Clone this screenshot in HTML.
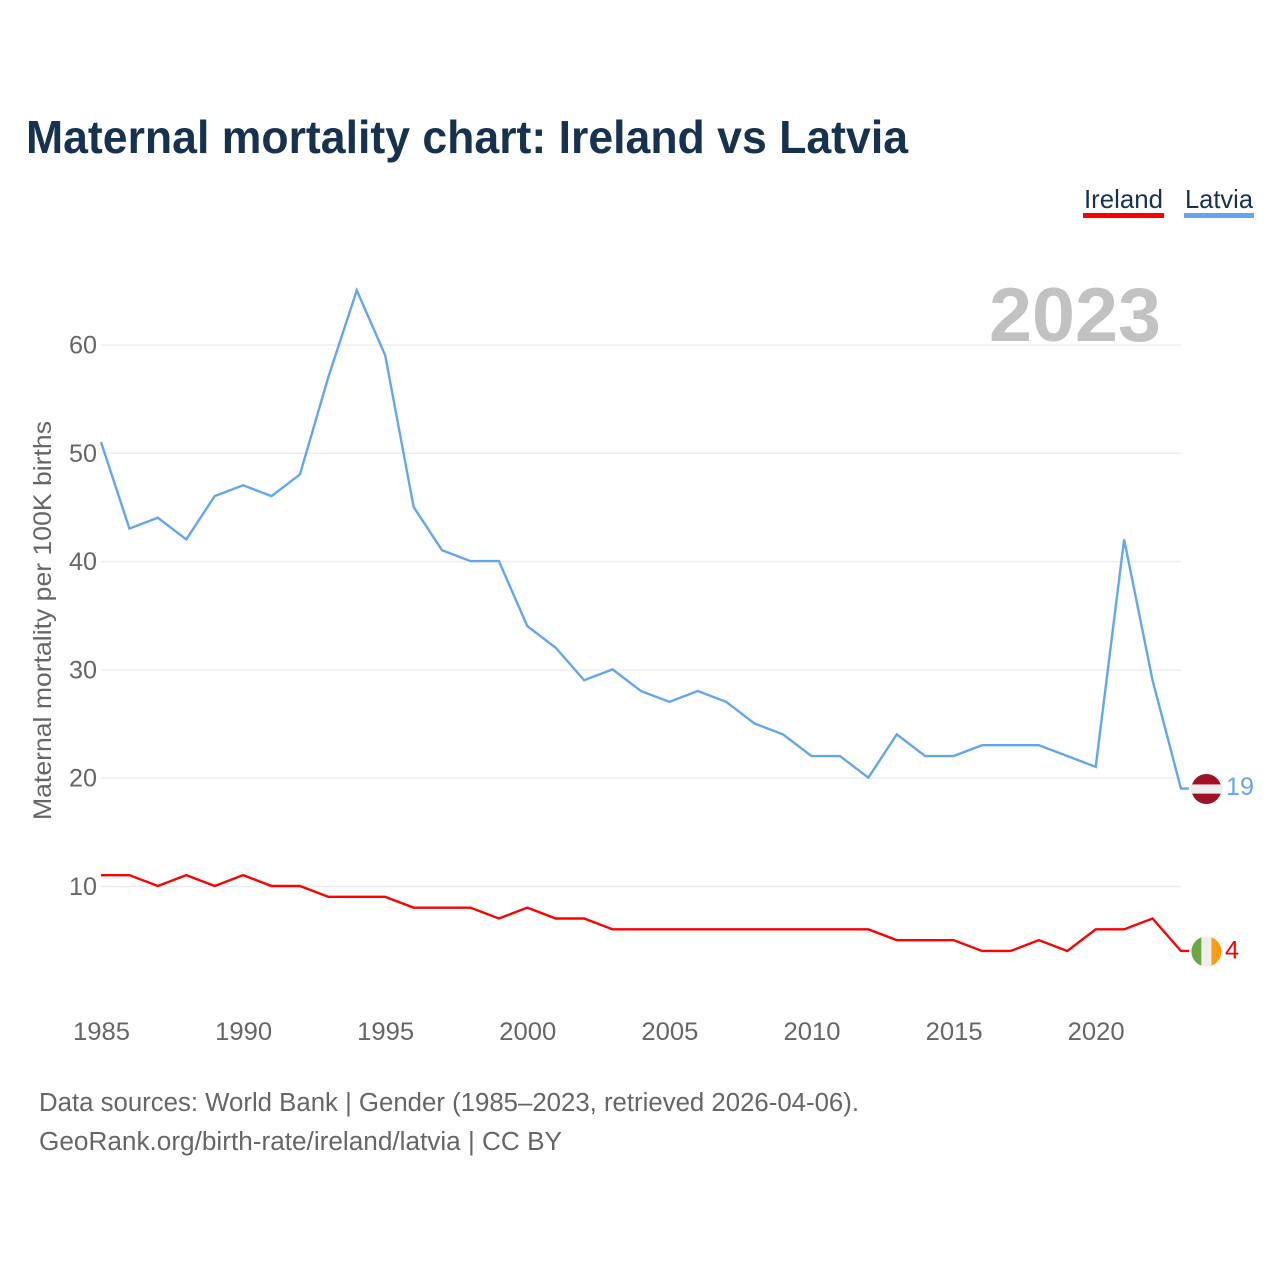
<!DOCTYPE html>
<html lang="en">
<head>
<meta charset="utf-8">
<title>Maternal mortality chart: Ireland vs Latvia</title>
<style>
html,body{margin:0;padding:0;background:#fff;width:1280px;height:1280px;overflow:hidden}
svg{display:block}
text{font-family:"Liberation Sans",sans-serif}
</style>
</head>
<body>
<svg id="chart" xmlns="http://www.w3.org/2000/svg" width="1280" height="1280" viewBox="0 0 1280 1280">
  <rect width="1280" height="1280" fill="#fff"/>
  <text x="26" y="153" font-size="46" font-weight="700" fill="#17324f" textLength="882" lengthAdjust="spacingAndGlyphs">Maternal mortality chart: Ireland vs Latvia</text>

  <g>
    <text x="1084" y="208" font-size="26" fill="#17324f" textLength="79" lengthAdjust="spacingAndGlyphs">Ireland</text>
    <rect x="1083" y="213" width="81" height="5" fill="#ff0000"/>
  </g>
  <g>
    <text x="1185" y="208" font-size="26" fill="#17324f" textLength="68" lengthAdjust="spacingAndGlyphs">Latvia</text>
    <rect x="1184" y="213" width="70" height="5" fill="#64a6ec"/>
  </g>

  <g id="grid"></g>
  <g id="yticks"></g>
  <g id="xticks"></g>

  <text x="1161" y="341" text-anchor="end" font-size="76" font-weight="700" fill="#c2c2c2" textLength="172" lengthAdjust="spacingAndGlyphs">2023</text>

  <text transform="translate(51 820) rotate(-90)" font-size="25" fill="#666" textLength="399" lengthAdjust="spacingAndGlyphs">Maternal mortality per 100K births</text>

  <g id="series"></g>

  <defs>
    <clipPath id="clip-lv"><circle id="clip-lv-c" r="15"/></clipPath>
    <clipPath id="clip-ie"><circle id="clip-ie-c" r="15"/></clipPath>
  </defs>

  <g id="flag-latvia" clip-path="url(#clip-lv)">
    <rect id="lv-band-main" fill="#a01027"/>
    <rect id="lv-band-white" fill="#eeeeee"/>
  </g>
  <g id="flag-ireland" clip-path="url(#clip-ie)">
    <rect id="ie-green" fill="#6fa544"/>
    <rect id="ie-white" fill="#eeeeee"/>
    <rect id="ie-orange" fill="#ff9b17"/>
  </g>

  <text id="label-latvia" x="1226" font-size="25" fill="#64a6ec" textLength="28" lengthAdjust="spacingAndGlyphs"></text>
  <text id="label-ireland" x="1225" font-size="25" fill="#ff0000" textLength="14" lengthAdjust="spacingAndGlyphs"></text>

  <text x="39" y="1111" font-size="25.5" fill="#666" textLength="820" lengthAdjust="spacingAndGlyphs">Data sources: World Bank | Gender (1985–2023, retrieved 2026-04-06).</text>
  <text x="39" y="1150" font-size="25.5" fill="#666" textLength="523" lengthAdjust="spacingAndGlyphs">GeoRank.org/birth-rate/ireland/latvia | CC BY</text>
</svg>
<script>
const years = [1985,1986,1987,1988,1989,1990,1991,1992,1993,1994,1995,1996,1997,1998,1999,2000,2001,2002,2003,2004,2005,2006,2007,2008,2009,2010,2011,2012,2013,2014,2015,2016,2017,2018,2019,2020,2021,2022,2023];
const latviaValues = [51,43,44,42,46,47,46,48,57,65,59,45,41,40,40,34,32,29,30,28,27,28,27,25,24,22,22,20,24,22,22,23,23,23,22,21,42,29,19];
const irelandValues = [11,11,10,11,10,11,10,10,9,9,9,8,8,8,7,8,7,7,6,6,6,6,6,6,6,6,6,6,5,5,5,4,4,5,4,6,6,7,4];
const yTickValues = [10,20,30,40,50,60];
const xTickYears = [1985,1990,1995,2000,2005,2010,2015,2020];

const NS = 'http://www.w3.org/2000/svg';
const xScale = year => 101 + (year - 1985) * 28.42;
const yScale = value => 886.5 - (value - 10) * 10.83;

function make(tag, attrs, parent) {
  const el = document.createElementNS(NS, tag);
  for (const k in attrs) el.setAttribute(k, attrs[k]);
  parent.appendChild(el);
  return el;
}

const grid = document.getElementById('grid');
const yticks = document.getElementById('yticks');
yTickValues.forEach(v => {
  const line = make('rect', {x: 101, y: yScale(v) - 0.75, width: 1080, height: 1.5, fill: '#ededed'}, grid);
  
  
  const label = make('text', {x: 97, y: yScale(v) + 8.5, 'text-anchor': 'end', 'font-size': 25, fill: '#666', textLength: 28, lengthAdjust: 'spacingAndGlyphs'}, yticks);
  
  
  label.textContent = v;
});

const xticks = document.getElementById('xticks');
xTickYears.forEach(yr => {
  const label = make('text', {x: xScale(yr) + 0.5, y: 1040, 'text-anchor': 'middle', 'font-size': 25, fill: '#666', textLength: 57, lengthAdjust: 'spacingAndGlyphs'}, xticks);
  
  
  label.textContent = yr;
});

const series = document.getElementById('series');
function drawSeries(values, color, name) {
  const pts = values.map((v, i) => xScale(years[i]).toFixed(2) + ',' + (yScale(v) - 0.5).toFixed(2));
  const lastY = yScale(values[values.length - 1]) - 0.5;
  pts.push((xScale(years[years.length - 1]) + 8).toFixed(2) + ',' + lastY.toFixed(2));
  const line = make('polyline', {points: pts.join(' '), fill: 'none', stroke: color, 'stroke-width': 2.4, 'stroke-linejoin': 'miter'}, series);
  
  
}
drawSeries(irelandValues, '#ff0000', 'line-ireland');
drawSeries(latviaValues, '#64a6ec', 'line-latvia');

const flagX = 1206.4;
const setAttrs = (id, attrs) => { const el = document.getElementById(id); for (const k in attrs) el.setAttribute(k, attrs[k]); return el; };

const lvValue = latviaValues[latviaValues.length - 1];
const ieValue = irelandValues[irelandValues.length - 1];
const lvY = yScale(lvValue);
const ieY = yScale(ieValue);

setAttrs('clip-lv-c', {cx: flagX, cy: lvY});
setAttrs('lv-band-main', {x: flagX - 15, y: lvY - 15, width: 30, height: 30});
setAttrs('lv-band-white', {x: flagX - 15, y: lvY - 4.6, width: 30, height: 9.2});

setAttrs('clip-ie-c', {cx: flagX, cy: ieY});
setAttrs('ie-green', {x: flagX - 15, y: ieY - 15, width: 10, height: 30});
setAttrs('ie-white', {x: flagX - 5, y: ieY - 15, width: 10, height: 30});
setAttrs('ie-orange', {x: flagX + 5, y: ieY - 15, width: 10, height: 30});

const lvLabel = setAttrs('label-latvia', {y: lvY + 6});
lvLabel.textContent = lvValue;
const ieLabel = setAttrs('label-ireland', {y: ieY + 7});
ieLabel.textContent = ieValue;
</script>
</body>
</html>
